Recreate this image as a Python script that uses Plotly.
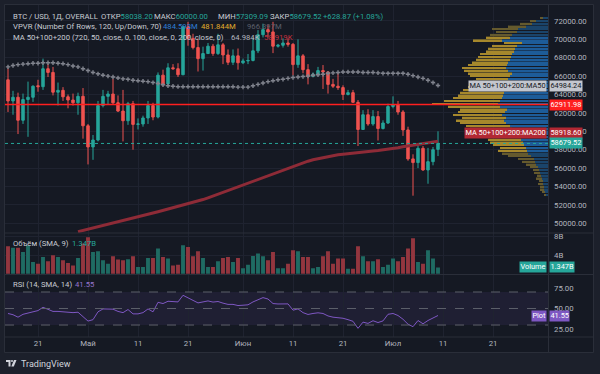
import plotly.graph_objects as go
import pandas as pd

FONT = "Roboto, Arial, sans-serif"
W, H = 600, 374


def fx(p):
    return p / W


def fy(p):
    return 1 - p / H


# ---------------- data ----------------
start = pd.Timestamp("2024-04-15")
dates = pd.date_range(start, periods=87, freq="D")

opens = [65600, 63300, 63700, 61200, 63450, 63700, 64950, 64850, 66800, 66400,
         64250, 64450, 63750, 63400, 63100, 63800, 60600, 58300, 59050, 62800,
         63800, 64050, 63100, 62200, 61150, 63000, 60750, 60800, 61450, 62800,
         61550, 66100, 65150, 66900, 66800, 66150, 71350, 70100, 69100, 67900,
         68450, 69250, 68450, 69400, 68300, 67500, 68200, 67450, 67650, 67700,
         68750, 70500, 71050, 70800, 69250, 69350, 69600, 69450, 67250, 68200,
         66700, 65950, 66200, 66600, 66450, 65100, 64900, 64750, 64000, 64200,
         63150, 60200, 61800, 60800, 61600, 60300, 60900, 62700, 62850, 62100,
         60150, 57000, 56600, 58150, 55800, 56700, 58038.20]
highs = [66850, 64400, 64200, 64100, 65400, 65000, 65600, 67900, 67300, 67000,
         65300, 64800, 64000, 64100, 64200, 64700, 60800, 59600, 63300, 64500,
         64400, 65700, 63900, 64500, 63200, 63300, 61400, 61700, 63300, 63100,
         66400, 66700, 67400, 67300, 67400, 71500, 71900, 70600, 70100, 69200,
         69600, 69500, 70600, 69600, 68900, 68900, 69000, 67900, 68400, 70200,
         71000, 71700, 71600, 71900, 69500, 70100, 70100, 69600, 70000, 68400,
         67300, 66400, 67000, 67200, 66500, 65700, 66400, 65000, 64500, 64500,
         63400, 62300, 62400, 62300, 62200, 61200, 63000, 63800, 63300, 62300,
         60500, 57500, 58500, 58400, 58200, 58300, 60000.00]
lows = [62100, 61800, 59700, 60800, 59400, 63200, 64300, 64500, 65900, 63900,
        62800, 63300, 62500, 62800, 61800, 59200, 56400, 56900, 58900, 62600,
        62900, 62900, 62100, 58900, 60700, 58000, 60200, 60500, 60800, 61200,
        61400, 64900, 65000, 66700, 65900, 66100, 69300, 68900, 66500, 66600,
        68400, 68200, 68300, 67300, 67200, 67200, 66700, 67300, 67300, 67600,
        68500, 70200, 70200, 68500, 69100, 69100, 69200, 66100, 66900, 66300,
        65100, 65900, 66000, 64600, 64100, 64700, 64500, 63400, 63900, 63200,
        58400, 60200, 60600, 60600, 59000, 60200, 60800, 62500, 61800, 59500,
        56800, 53000, 56000, 55700, 54300, 56300, 57309.09]
closes = [63300, 63700, 61200, 63450, 63700, 64900, 64850, 66800, 66400, 64250,
          64450, 63750, 63400, 63100, 63800, 60600, 58300, 59050, 62800, 63800,
          64050, 63100, 62200, 61150, 63000, 60750, 60800, 61450, 62800, 61550,
          66100, 65150, 66900, 66800, 66150, 71350, 70100, 69100, 67900, 68450,
          69250, 68450, 69400, 68300, 67500, 68200, 67450, 67650, 67700, 68750,
          70500, 71050, 70800, 69250, 69350, 69600, 69450, 67250, 68200, 66700,
          65950, 66200, 66600, 66450, 65100, 64900, 64750, 64000, 64200, 63150,
          60200, 61800, 60800, 61600, 60300, 60900, 62700, 62850, 62100, 60150,
          57000, 56600, 58150, 55800, 56700, 58000, 58679.52]

ma50 = [67000, 67150, 67250, 67300, 67350, 67400, 67400, 67450, 67450, 67450,
        67400, 67350, 67250, 67100, 67000, 66800, 66600, 66400, 66250, 66100,
        66000, 65900, 65800, 65700, 65650, 65550, 65500, 65450, 65400, 65300,
        65200, 65050, 64950, 64900, 64850, 64850, 64850, 64850, 64850, 64850,
        64850, 64850, 64850, 64850, 64850, 64850, 64800, 64800, 64800, 64950,
        65100, 65250, 65400, 65500, 65600, 65650, 65750, 65850, 65900, 65950,
        66000, 66100, 66150, 66200, 66300, 66350, 66400, 66450, 66450, 66450,
        66450, 66400, 66400, 66400, 66350, 66300, 66300, 66300, 66300, 66300,
        66200, 66050, 65900, 65750, 65550, 65300, 64984.24]

ma200 = [None] * 14 + [
    49090, 49220, 49350, 49480, 49620, 49750, 49880, 50010, 50150, 50280,
    50410, 50540, 50690, 50830, 50970, 51120, 51260, 51400, 51540, 51690,
    51830, 51970, 52110, 52260, 52400, 52580, 52770, 52970, 53160, 53360,
    53550, 53750, 53950, 54140, 54340, 54540, 54750, 54960, 55160, 55380,
    55590, 55790, 55990, 56170, 56370, 56560, 56750, 56900, 57020, 57140,
    57260, 57360, 57440, 57510, 57580, 57640, 57700, 57750, 57810, 57860,
    57910, 57970, 58060, 58130, 58220, 58310, 58390, 58470, 58540, 58620,
    58710, 58780, 58918.60]

volume_b = [5.97, 5.60, 5.60, 4.72, 6.19, 2.54, 2.19, 3.63, 2.69, 4.00,
            3.63, 2.91, 2.32, 1.81, 3.41, 6.56, 7.87, 4.72, 4.87, 2.91,
            2.19, 3.78, 3.06, 2.91, 3.13, 3.78, 1.44, 1.44, 3.41, 3.41,
            5.47, 3.63, 3.28, 1.81, 1.97, 6.19, 5.81, 3.78, 4.87, 3.41,
            1.44, 1.44, 2.69, 3.41, 3.63, 2.54, 3.41, 1.22, 1.97, 3.85,
            4.37, 3.78, 2.91, 4.72, 1.22, 1.22, 2.19, 5.09, 4.87, 3.63,
            3.63, 1.22, 1.44, 3.78, 4.87, 2.19, 3.28, 3.28, 1.09, 1.09,
            5.97, 3.78, 2.69, 2.69, 3.13, 1.44, 1.97, 3.28, 2.69, 3.63,
            5.47, 7.65, 2.54, 2.19, 5.09, 3.28, 1.347]

rsi = [44, 42.5, 39.5, 43, 44.5, 46, 47.5, 51.5, 49, 46.5,
       46.5, 46, 45, 45, 45.5, 40, 34.8, 36.5, 46, 49.5,
       49.8, 49.2, 46.5, 45, 48.8, 43.5, 43.5, 45, 49.5, 46,
       57.5, 56, 58.8, 58.2, 58, 66, 63, 60, 56.8, 58,
       59.2, 57.8, 58.5, 56.5, 55, 55, 53.6, 54, 54.5, 58,
       61, 63.2, 61.5, 56, 55.5, 56, 55.6, 48, 49.5, 45,
       42.8, 44, 44.8, 44, 41, 39.5, 39, 38.2, 36.5, 34.5,
       26, 33.5, 32, 35.2, 33, 35, 43, 44, 41.5, 37,
       31, 28, 35.5, 31.5, 35.5, 38.5, 41.55]

# volume profile (VPVR) rows: price level, up volume, down volume (relative units)
vp_price = [53100, 53400, 53700, 54000, 54300, 54600, 54900, 55200, 55500, 55800,
            56100, 56400, 56700, 57000, 57300, 57600, 57900, 58200, 58500, 58800,
            59100, 59400, 59700, 60000, 60300, 60600, 60900, 61200, 61500, 61800,
            62100, 62400, 62700, 63000, 63300, 63600, 63900, 64200, 64500, 64800,
            65100, 65400, 65700, 66000, 66300, 66600, 66900, 67200, 67500, 67800,
            68100, 68400, 68700, 69000, 69300, 69600, 69900, 70200, 70500, 70800,
            71100, 71400, 71700, 72000, 72300]
vp_up = [2, 3, 4, 4, 5, 5, 6, 7, 8, 9,
         10, 12, 13, 14, 17, 20, 21, 22, 24, 25,
         27, 30, 33, 32, 36, 38, 42, 44, 42, 46,
         43, 41, 48, 50, 48, 46, 45, 44, 42, 40,
         40, 38, 40, 38, 36, 40, 42, 41, 40, 38,
         37, 36, 34, 33, 31, 26, 46, 38, 36, 31,
         30, 22, 16, 12, 5]
vp_down = [2, 3, 4, 4, 5, 4, 6, 4, 6, 6,
           8, 10, 13, 16, 23, 26, 29, 26, 31, 33,
           33, 36, 39, 38, 42, 44, 46, 48, 44, 49,
           47, 47, 52, 66, 56, 49, 45, 44, 43, 40,
           38, 37, 32, 40, 44, 44, 44, 39, 36, 34,
           33, 32, 28, 27, 25, 18, 29, 24, 22, 21,
           26, 18, 12, 6, 3]
VA_LOW, VA_HIGH = 57800, 70300
POC = 62911.98
LAST = 58679.52

tick_dates = ["2024-04-21", "2024-05-01", "2024-05-11", "2024-05-21", "2024-06-01",
              "2024-06-11", "2024-06-21", "2024-07-01", "2024-07-11", "2024-07-21"]
tick_text = ["21", "Май", "11", "21", "Июн", "11", "21", "Июл", "11", "21"]
price_ticks = list(range(50000, 72001, 2000))

# ---------------- style ----------------
OUTER = "#1c202b"
BG = "#151923"
BORDER = "#2a2e39"
GRID = "#1f2330"
UP = "#26a69a"
DOWN = "#ef5350"
TXT = "#c9ccd3"
AX = "#b2b5be"
DAY = 86400000

fig = go.Figure()

# VPVR
up_col = ["#1d5c99" if VA_LOW <= p <= VA_HIGH else "#1a446a" for p in vp_price]
dn_col = ["#a6882c" if VA_LOW <= p <= VA_HIGH else "#655a2e" for p in vp_price]
fig.add_trace(go.Bar(y=vp_price, x=vp_up, orientation="h", xaxis="x2", yaxis="y",
                     width=175, marker=dict(color=up_col, line=dict(width=0)),
                     hoverinfo="skip"))
fig.add_trace(go.Bar(y=vp_price, x=vp_down, base=vp_up, orientation="h", xaxis="x2",
                     yaxis="y", width=175, marker=dict(color=dn_col, line=dict(width=0)),
                     hoverinfo="skip"))

# MA200
fig.add_trace(go.Scatter(x=dates, y=ma200, mode="lines", xaxis="x", yaxis="y",
                         line=dict(color="#8e2b37", width=3), hoverinfo="skip"))
# MA50 crosses
fig.add_trace(go.Scatter(x=dates, y=ma50, mode="lines+markers", xaxis="x", yaxis="y",
                         line=dict(color="rgba(150,153,162,0.22)", width=1),
                         marker=dict(symbol="cross", size=3.6, color="#80838d",
                                     line=dict(width=0)),
                         hoverinfo="skip"))
# candles
fig.add_trace(go.Candlestick(x=dates, open=opens, high=highs, low=lows, close=closes,
                             xaxis="x", yaxis="y", whiskerwidth=0,
                             increasing=dict(line=dict(color=UP, width=1), fillcolor=UP),
                             decreasing=dict(line=dict(color=DOWN, width=1), fillcolor=DOWN),
                             hoverinfo="skip"))
# volume
vol_col = ["#1f6b63" if c >= o else "#93363f" for o, c in zip(opens, closes)]
fig.add_trace(go.Bar(x=dates, y=volume_b, xaxis="x", yaxis="y2", width=0.78 * DAY,
                     marker=dict(color=vol_col, line=dict(width=0)), hoverinfo="skip"))
# RSI
fig.add_trace(go.Scatter(x=dates, y=rsi, mode="lines", xaxis="x", yaxis="y3",
                         line=dict(color="#7e57c2", width=1), hoverinfo="skip"))

shapes = [
    dict(type="rect", xref="paper", yref="paper", x0=fx(4.5), x1=fx(593.5),
         y0=fy(352.5), y1=fy(4.5), fillcolor=BG, line=dict(color=BORDER, width=1),
         layer="below"),
    dict(type="rect", xref="paper", yref="y3", x0=fx(5), x1=fx(548), y0=30, y1=70,
         fillcolor="rgba(126,87,194,0.10)", line=dict(width=0), layer="below"),
]
for v in (70, 50, 30):
    shapes.append(dict(type="line", xref="paper", yref="y3", x0=fx(5), x1=fx(548),
                       y0=v, y1=v, line=dict(color="#5d606b", width=1, dash="dash")))
for yy in (233, 274.5, 337):
    shapes.append(dict(type="line", xref="paper", yref="paper", x0=fx(5), x1=fx(593),
                       y0=fy(yy), y1=fy(yy), line=dict(color=BORDER, width=1)))
shapes.append(dict(type="line", xref="paper", yref="paper", x0=fx(548.5), x1=fx(548.5),
                   y0=fy(352), y1=fy(5), line=dict(color=BORDER, width=1)))
shapes.append(dict(type="line", xref="paper", yref="y", x0=fx(5), x1=fx(548),
                   y0=POC, y1=POC, line=dict(color="#ff1f1f", width=1.5)))
shapes.append(dict(type="line", xref="paper", yref="y", x0=fx(5), x1=fx(548),
                   y0=LAST, y1=LAST, line=dict(color=UP, width=1, dash="dot")))


# TradingView logo glyph
def pth(points):
    return "M" + " L".join(f"{fx(a):.5f},{fy(b):.5f}" for a, b in points) + " Z"


shapes.append(dict(type="path", xref="paper", yref="paper",
                   path=pth([(6, 360), (10.5, 360), (10.5, 366.5), (8.5, 366.5), (8.5, 362), (6, 362)]),
                   fillcolor="#d1d4dc", line=dict(width=0)))
shapes.append(dict(type="circle", xref="paper", yref="paper", x0=fx(11), x1=fx(13),
                   y0=fy(362), y1=fy(360), fillcolor="#d1d4dc", line=dict(width=0)))
shapes.append(dict(type="path", xref="paper", yref="paper",
                   path=pth([(14, 360), (16.5, 360), (13.8, 366.5), (11.3, 366.5)]),
                   fillcolor="#d1d4dc", line=dict(width=0)))


def txt(x, y, s, color=TXT, size=7.7):
    return dict(x=fx(x), y=fy(y), xref="paper", yref="paper", text=s, showarrow=False,
                xanchor="left", yanchor="middle",
                font=dict(color=color, size=size, family=FONT))


def tag(x, y, s, bg, fg="#ffffff", anchor="left", yref="paper"):
    return dict(x=fx(x), y=(fy(y) if yref == "paper" else y), xref="paper", yref=yref,
                text=s, showarrow=False, xanchor=anchor, yanchor="middle",
                bgcolor=bg, borderpad=0.4,
                font=dict(color=fg, size=7.4, family=FONT))


def sp(s, c):
    return f"<span style='color:{c}'>{s}</span>"


ann = [
    txt(11, 16.5, "BTC / USD, 1Д, OVERALL"),
    txt(99, 16.5, "ОТКР" + sp("58038.20", UP)),
    txt(152, 16.5, "МАКС" + sp("60000.00", UP)),
    txt(216, 16.5, "МИН" + sp("57309.09", UP)),
    txt(268, 16.5, "ЗАКР" + sp("58679.52", UP)),
    txt(321, 16.5, "+628.87 (+1.08%)", UP),
    txt(11, 27, "VPVR (Number Of Rows, 120, Up/Down, 70)"),
    txt(161, 27, "484.593M", "#2f7fd8"),
    txt(199, 27, "481.844M", "#e1ad2c"),
    txt(245, 27, "966.397M", "#5d606b"),
    txt(11, 37.5, "MA 50+100+200 (720, 50, close, 0, 100, close, 0, 200, close, 0)"),
    txt(229, 37.5, "64.984K", AX),
    txt(262, 37.5, "58.919K", "#c2313f"),
    txt(11, 243.5, "Объём (SMA, 9)"),
    txt(70, 243.5, "1.347B", UP),
    txt(11, 284, "RSI (14, SMA, 14)"),
    txt(73, 284, "41.55", "#9575cd"),
    txt(19, 363.5, "TradingView", "#d1d4dc", 9),
    tag(547, 86, "MA 50+100+200:MA50", "#c3c6ce", "#131722", "right"),
    tag(549, 86, "64984.24", "#c3c6ce", "#131722"),
    tag(549, POC, "62911.98", "#ff1f1f", yref="y"),
    tag(547, 133, "MA 50+100+200:MA200", "#b22833", "#ffffff", "right"),
    tag(549, 133, "58918.60", "#b22833"),
    tag(549, LAST, "58679.52", UP, yref="y"),
    tag(547, 267, "Volume", UP, "#ffffff", "right"),
    tag(549, 267, "1.347B", UP),
    tag(547, 315.5, "Plot", "#7e57c2", "#ffffff", "right"),
    tag(549, 315.5, "41.55", "#7e57c2"),
]

axfont = dict(color=AX, size=7.8, family=FONT)
x0 = start - pd.Timedelta(hours=14.4)
x1 = start + pd.Timedelta(days=108)

fig.update_layout(
    width=W, height=H, margin=dict(l=0, r=0, t=0, b=0),
    paper_bgcolor=OUTER, plot_bgcolor="rgba(0,0,0,0)",
    showlegend=False, barmode="overlay", hovermode=False,
    xaxis=dict(domain=[fx(5), fx(548)], range=[x0, x1], type="date", anchor="y3",
               tickvals=tick_dates, ticktext=tick_text, showgrid=True, gridcolor=GRID,
               zeroline=False, showline=False, ticks="", tickfont=axfont,
               rangeslider=dict(visible=False), fixedrange=True),
    xaxis2=dict(overlaying="x", range=[543, 0], visible=False, anchor="y",
                fixedrange=True),
    yaxis=dict(domain=[fy(233), fy(5)], range=[48946, 73728], side="right", anchor="x",
               tickvals=price_ticks, ticktext=[f"{v:.2f}" for v in price_ticks],
               showgrid=True, gridcolor=GRID, zeroline=False, showline=False, ticks="",
               tickfont=axfont, ticklabelstandoff=5, fixedrange=True),
    yaxis2=dict(domain=[fy(274.5), fy(233)], range=[-0.153, 8.81], side="right",
                anchor="x", tickvals=[4, 8], ticktext=["4B", "8B"], showgrid=True,
                gridcolor=GRID, zeroline=False, showline=False, ticks="",
                tickfont=axfont, ticklabelstandoff=5, fixedrange=True),
    yaxis3=dict(domain=[fy(337), fy(274.5)], range=[15.5, 91.2], side="right",
                anchor="x", tickvals=[25, 50, 75], ticktext=["25.00", "50.00", "75.00"],
                showgrid=False, zeroline=False, showline=False, ticks="",
                tickfont=axfont, ticklabelstandoff=5, fixedrange=True),
    shapes=shapes, annotations=ann,
)

fig.write_html("out.html", config={"displayModeBar": False},
               post_script="document.body.style.margin='0';document.body.style.background='#1c202b';")
